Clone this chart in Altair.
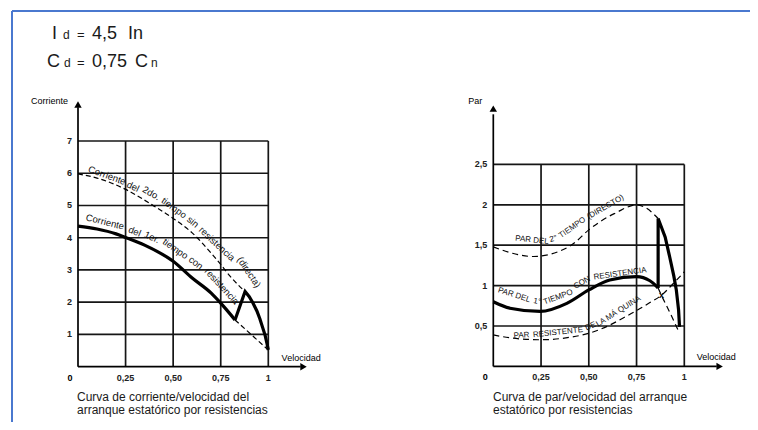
import altair as alt
import pandas as pd

# ---------------- data ----------------
speed_ticks = [0.25, 0.5, 0.75, 1.0]
speed_tick_labels = ["0,25", "0,50", "0,75", "1"]

cur_ticks = [1, 2, 3, 4, 5, 6, 7]
cur_tick_labels = ["1", "2", "3", "4", "5", "6", "7"]

par_ticks = [0.5, 1.0, 1.5, 2.0, 2.5]
par_tick_labels = ["0,5", "1", "1,5", "2", "2,5"]

# Left panel: current / speed
cur_direct_x = [0, 0.1, 0.25, 0.4, 0.5, 0.6, 0.7, 0.75, 0.8, 0.878]
cur_direct_y = [5.98, 5.85, 5.5, 4.98, 4.6, 4.15, 3.52, 3.17, 2.8, 2.33]

cur_first_x = [0, 0.1, 0.2, 0.25, 0.35, 0.5, 0.6, 0.7, 0.75, 0.8, 0.825]
cur_first_y = [4.36, 4.27, 4.12, 4.01, 3.77, 3.27, 2.75, 2.28, 1.97, 1.63, 1.45]

cur_switch_x = [0.825, 0.878, 0.9, 0.92, 0.94, 0.956, 0.97, 0.983, 0.993, 1.0]
cur_switch_y = [1.45, 2.33, 2.17, 1.97, 1.73, 1.48, 1.22, 0.98, 0.72, 0.52]

cur_tail_x = [0.825, 1.0]
cur_tail_y = [1.45, 0.52]

# Right panel: torque / speed
par_direct_x = [0, 0.1, 0.21, 0.34, 0.42, 0.5, 0.6, 0.65, 0.7, 0.75, 0.8, 0.863]
par_direct_y = [1.48, 1.40, 1.36, 1.42, 1.52, 1.69, 1.85, 1.91, 1.97, 2.0, 1.96, 1.83]

par_first_x = [0, 0.087, 0.245, 0.385, 0.5, 0.61, 0.75, 0.82, 0.855, 0.863]
par_first_y = [0.80, 0.72, 0.68, 0.78, 0.946, 1.07, 1.11, 1.06, 0.99, 0.97]

par_switch_x = [0.863, 0.863, 0.9, 0.923, 0.945, 0.958, 0.97, 0.975]
par_switch_y = [0.97, 1.83, 1.6, 1.36, 1.12, 0.95, 0.7, 0.49]

par_tail_x = [0.863, 0.88, 0.93, 0.975]
par_tail_y = [0.97, 0.88, 0.64, 0.41]

par_load_x = [0, 0.1, 0.25, 0.4, 0.5, 0.6, 0.68, 0.75, 0.82, 0.88, 0.94, 1.0]
par_load_y = [0.39, 0.35, 0.33, 0.36, 0.41, 0.5, 0.6, 0.69, 0.79, 0.88, 1.02, 1.17]

# curve labels (word, speed, value, angle)
cur_direct_words = ["Corriente", "del", "2do.", "tiempo", "sin", "resistencia", "(directa)"]
cur_direct_wx = [0.1524, 0.289, 0.3852, 0.5045, 0.6033, 0.7294, 0.898]
cur_direct_wy = [5.926, 5.583, 5.378, 4.922, 4.488, 3.806, 2.928]
cur_direct_wa = [20, 25, 30, 36, 40, 43, 56]

cur_first_words = ["Corriente", "del", "1er.", "tiempo", "con", "resistencia"]
cur_first_wx = [0.1419, 0.298, 0.3889, 0.5113, 0.619, 0.755]
cur_first_wy = [4.488, 4.187, 4.014, 3.651, 3.217, 2.49]
cur_first_wa = [14, 22, 25, 35, 38, 47]

par_direct_words = ["PAR DEL", "2°", "TIEMPO", "(DIRECTO)"]
par_direct_wx = [0.2026, 0.3152, 0.4147, 0.5874]
par_direct_wy = [1.561, 1.577, 1.715, 1.969]
par_direct_wa = [6, 345, 325, 330]

par_first_words = ["PAR DEL", "1°", "TIEMPO", "CON", "RESISTENCIA"]
par_first_wx = [0.1094, 0.2298, 0.3403, 0.465, 0.6639]
par_first_wy = [0.880, 0.80, 0.855, 1.035, 1.145]
par_first_wa = [18, 10, 340, 330, 352]

par_load_words = ["PAR", "RESISTENTE", "DE", "LA MÁ QUINA"]
par_load_wx = [0.148, 0.3387, 0.51, 0.6555]
par_load_wy = [0.382, 0.418, 0.495, 0.679]
par_load_wa = [357, 354, 335, 328]

caption_left = ["Curva de corriente/velocidad del", "arranque estatórico por resistencias"]
caption_right = ["Curva de par/velocidad del arranque", "estatórico por resistencias"]

# ---------------- layout ----------------
FONT = "Liberation Sans"
INK = "#000000"
GRID = "#161616"
XR = {"L": [70.0, 260.3], "R": [485.3, 676.3]}
YR = {"L": [358.7, 133.0], "R": [358.4, 156.4]}
YD = {"L": [0, 7], "R": [0, 2.5]}
YTOP = {"L": 7, "R": 2.5}
YAX = {"L": 8.05, "R": 3.12}
YARROW = {"L": 8.13, "R": 3.19}


def xs(side):
    return alt.Scale(domain=[0, 1], range=XR[side], nice=False, zero=False)


def ys(side):
    return alt.Scale(domain=YD[side], range=YR[side], nice=False, zero=False)


def X(field, side):
    return alt.X(field, type="quantitative", scale=xs(side), axis=None)


def Y(field, side):
    return alt.Y(field, type="quantitative", scale=ys(side), axis=None)


def curve(xv, yv, side, interp, width, dash=None):
    df = pd.DataFrame({"x": xv, "y": yv, "o": list(range(len(xv)))})
    kw = dict(color=INK, strokeWidth=width, interpolate=interp, clip=False)
    if dash:
        kw["strokeDash"] = dash
    return alt.Chart(df).mark_line(**kw).encode(
        x=X("x", side), y=Y("y", side), order=alt.Order("o:Q"))


def words(w, wx, wy, wa, side, size):
    df = pd.DataFrame({"t": w, "x": wx, "y": wy, "a": wa})
    return alt.Chart(df).mark_text(font=FONT, fontSize=size, color="#111111",
                                   align="center", baseline="middle").encode(
        x=X("x", side), y=Y("y", side), text="t:N",
        angle=alt.Angle("a:Q", scale=None))


def label(t, x, y, side, align, dx=0, dy=0, size=9, weight="normal"):
    df = pd.DataFrame({"t": [t], "x": [x], "y": [y]})
    return alt.Chart(df).mark_text(font=FONT, fontSize=size, color=INK, align=align,
                                   baseline="middle", dx=dx, dy=dy, fontWeight=weight).encode(
        x=X("x", side), y=Y("y", side), text="t:N")


def frame(side, yticks, ylabels):
    layers = []
    hg = pd.DataFrame({"y": yticks, "x0": 0.0, "x1": 1.0})
    layers.append(alt.Chart(hg).mark_rule(color=GRID, strokeWidth=1.7).encode(
        x=X("x0", side), x2="x1", y=Y("y", side)))
    vg = pd.DataFrame({"x": speed_ticks, "y0": 0.0, "y1": float(YTOP[side])})
    layers.append(alt.Chart(vg).mark_rule(color=GRID, strokeWidth=1.7).encode(
        x=X("x", side), y=Y("y0", side), y2="y1"))
    ya = pd.DataFrame({"x": [0.0], "y0": [0.0], "y1": [YAX[side]]})
    layers.append(alt.Chart(ya).mark_rule(color=INK, strokeWidth=1.7).encode(
        x=X("x", side), y=Y("y0", side), y2="y1"))
    xa = pd.DataFrame({"y": [0.0], "x0": [0.0], "x1": [1.17]})
    layers.append(alt.Chart(xa).mark_rule(color=INK, strokeWidth=1.7).encode(
        x=X("x0", side), x2="x1", y=Y("y", side)))
    ar1 = pd.DataFrame({"x": [0.0], "y": [YARROW[side]]})
    layers.append(alt.Chart(ar1).mark_point(shape="triangle-up", filled=True, size=55,
                                            color=INK, opacity=1).encode(
        x=X("x", side), y=Y("y", side)))
    ar2 = pd.DataFrame({"x": [1.185], "y": [0.0]})
    layers.append(alt.Chart(ar2).mark_point(shape="triangle-right", filled=True, size=55,
                                            color=INK, opacity=1).encode(
        x=X("x", side), y=Y("y", side)))
    yl = pd.DataFrame({"y": yticks, "t": ylabels, "x": 0.0})
    layers.append(alt.Chart(yl).mark_text(font=FONT, fontSize=9, fontWeight="bold", color="#222222",
                                          align="right", baseline="middle", dx=-6).encode(
        x=X("x", side), y=Y("y", side), text="t:N"))
    xl = pd.DataFrame({"x": speed_ticks, "t": speed_tick_labels, "y": 0.0})
    layers.append(alt.Chart(xl).mark_text(font=FONT, fontSize=9, fontWeight="bold", color="#222222",
                                          align="center", baseline="middle", dy=11).encode(
        x=X("x", side), y=Y("y", side), text="t:N"))
    layers.append(label("0", 0.0, 0.0, side, "center", dx=-8, dy=11, weight="bold"))
    return layers


layers = []

# ---- left panel ----
layers += frame("L", cur_ticks, cur_tick_labels)
layers.append(curve(cur_direct_x, cur_direct_y, "L", "monotone", 1.2, [5, 3]))
layers.append(curve(cur_tail_x, cur_tail_y, "L", "linear", 1.2, [5, 3]))
layers.append(curve(cur_first_x, cur_first_y, "L", "monotone", 3.2))
layers.append(curve(cur_switch_x, cur_switch_y, "L", "linear", 3.2))
layers.append(words(cur_direct_words, cur_direct_wx, cur_direct_wy, cur_direct_wa, "L", 9.5))
layers.append(words(cur_first_words, cur_first_wx, cur_first_wy, cur_first_wa, "L", 9.5))
layers.append(label("Corriente", 0.0, 8.25, "L", "right", dx=-10))
layers.append(label("Velocidad", 1.07, 0.0, "L", "left", dy=-9))

# ---- right panel ----
layers += frame("R", par_ticks, par_tick_labels)
layers.append(curve(par_direct_x, par_direct_y, "R", "monotone", 1.2, [6, 4]))
layers.append(curve(par_load_x, par_load_y, "R", "monotone", 1.2, [6, 4]))
layers.append(curve(par_tail_x, par_tail_y, "R", "linear", 1.2, [6, 4]))
layers.append(curve(par_first_x, par_first_y, "R", "monotone", 3.2))
layers.append(curve(par_switch_x, par_switch_y, "R", "linear", 3.2))
layers.append(words(par_direct_words, par_direct_wx, par_direct_wy, par_direct_wa, "R", 8))
layers.append(words(par_first_words, par_first_wx, par_first_wy, par_first_wa, "R", 8))
layers.append(words(par_load_words, par_load_wx, par_load_wy, par_load_wa, "R", 8))
xm = pd.DataFrame({"x": [0.88], "y": [0.88], "t": ["x"]})
layers.append(alt.Chart(xm).mark_text(font=FONT, fontSize=9, fontWeight="bold", color=INK,
                                      baseline="middle").encode(
    x=X("x", "R"), y=Y("y", "R"), text="t:N"))
layers.append(label("Par", 0.0, 3.28, "R", "right", dx=-11))
layers.append(label("Velocidad", 1.065, 0.0, "R", "left", dy=-9))

# ---- captions ----
for i, line in enumerate(caption_left):
    layers.append(alt.Chart(pd.DataFrame({"t": [line]})).mark_text(
        font=FONT, fontSize=12, color="#1a1a1a", align="left", baseline="middle").encode(
        x=alt.value(69), y=alt.value(389 + 13 * i), text="t:N"))
for i, line in enumerate(caption_right):
    layers.append(alt.Chart(pd.DataFrame({"t": [line]})).mark_text(
        font=FONT, fontSize=12, color="#1a1a1a", align="left", baseline="middle").encode(
        x=alt.value(485), y=alt.value(389 + 13 * i), text="t:N"))

# ---- header formulas ----
header = [
    ("I", 44, 30.5, 18), ("d", 55, 30.5, 12), ("=", 69, 30.5, 13), ("4,5", 84, 30.5, 18), ("In", 120, 30.5, 18),
    ("C", 39, 58.5, 18), ("d", 56, 58.5, 12), ("=", 69, 58.5, 13), ("0,75", 84, 58.5, 18), ("C", 127, 58.5, 18),
    ("n", 143, 58.5, 12),
]
for t, px, py, fs in header:
    layers.append(alt.Chart(pd.DataFrame({"t": [t]})).mark_text(
        font=FONT, fontSize=fs, color="#1a1a1a", align="left", baseline="alphabetic").encode(
        x=alt.value(px), y=alt.value(py), text="t:N"))

# ---- blue frame ----
layers.append(alt.Chart(pd.DataFrame({"a": [0]})).mark_rule(color="#4a78cf", strokeWidth=2).encode(
    x=alt.value(4), x2=alt.value(760), y=alt.value(3)))
layers.append(alt.Chart(pd.DataFrame({"a": [0]})).mark_rule(color="#4a78cf", strokeWidth=2).encode(
    x=alt.value(4), y=alt.value(3), y2=alt.value(430)))

chart = alt.layer(*layers).resolve_scale(
    x="independent", y="independent"
).properties(
    width=742, height=414, padding=0, autosize="none", background="white"
).configure_view(stroke=None)

chart.save("out.html", embed_options={"renderer": "svg", "actions": False})
